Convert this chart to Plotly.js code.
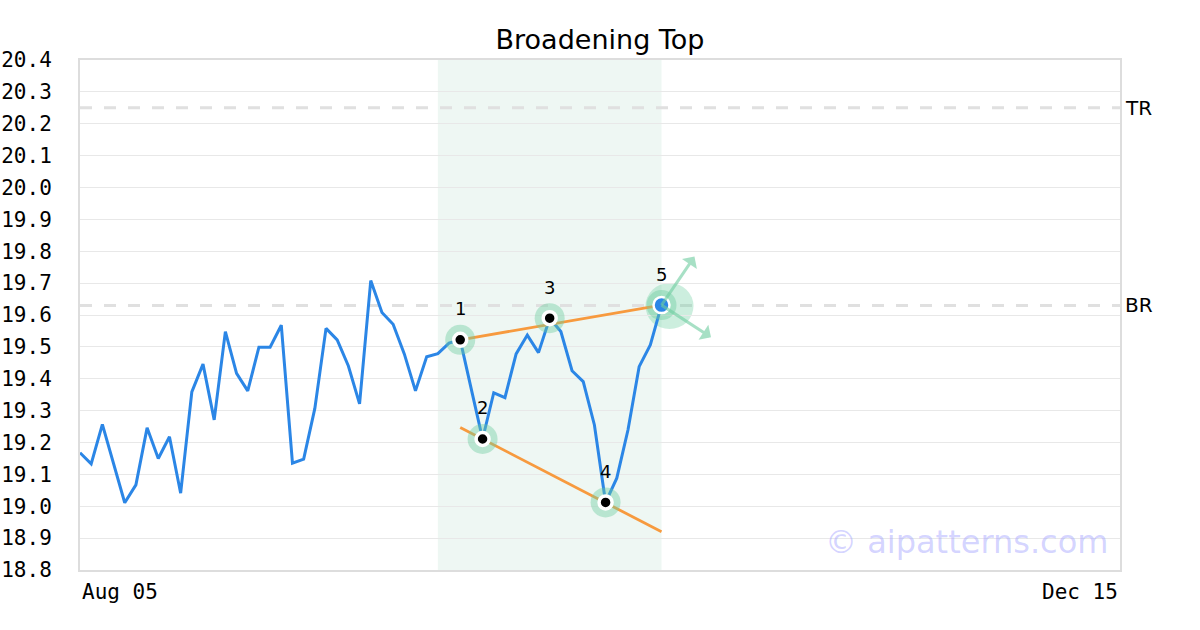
<!DOCTYPE html>
<html>
<head>
<meta charset="utf-8">
<script src="https://cdn.plot.ly/plotly-3.0.1.min.js"></script>
<style>html,body{margin:0;padding:0;background:#fff;}#chart{width:1200px;height:630px;}</style>
</head>
<body>
<div id="chart"></div>
<script>
// ---- data ----
var xStartLabel = "Aug 05";
var xEndLabel = "Dec 15";
var xEndIndex = 93;
var prices = [
  19.168, 19.133, 19.257, 19.133, 19.011, 19.067, 19.246, 19.150, 19.218, 19.041,
  19.359, 19.446, 19.271, 19.548, 19.417, 19.362, 19.499, 19.499, 19.568, 19.135,
  19.148, 19.307, 19.558, 19.522, 19.440, 19.321, 19.708, 19.608, 19.571, 19.478,
  19.362, 19.469, 19.479, 19.512, 19.522, 19.366, 19.211, 19.356, 19.341, 19.478,
  19.537, 19.482, 19.590, 19.548, 19.425, 19.391, 19.255, 19.012, 19.088, 19.239,
  19.438, 19.506, 19.631
];
var pivotIdx = [34, 36, 42, 47, 52];
var pivotLabels = ["1", "2", "3", "4", "5"];
var upperLineX = [34, 52];
var upperLineY = [19.522, 19.631];
var lowerLineX = [34, 52];
var lowerLineY = [19.247, 18.920];
var zoneX = [32, 52];
var levelNames = ["TR", "BR"];
var levelValues = [20.25, 19.63];
var yRange = [18.8, 20.4];

// ---- build ----
var idx = prices.map(function(_, i){ return i; });
var px = pivotIdx.map(function(i){ return i; });
var py = pivotIdx.map(function(i){ return prices[i]; });
var lastI = pivotIdx[pivotIdx.length - 1];

var traces = [
  { x: idx, y: prices, mode: 'lines', line: {color: '#2b86e6', width: 3}, hoverinfo: 'skip' },
  { x: upperLineX, y: upperLineY, mode: 'lines', line: {color: '#f79a3e', width: 2.8}, hoverinfo: 'skip' },
  { x: lowerLineX, y: lowerLineY, mode: 'lines', line: {color: '#f79a3e', width: 2.8}, hoverinfo: 'skip' },
  { x: px, y: py, mode: 'markers', marker: {size: 30, color: 'rgba(110,205,160,0.42)'}, hoverinfo: 'skip' },
  { x: px.slice(0, 4), y: py.slice(0, 4), mode: 'markers',
    marker: {size: 13, color: '#000', line: {color: '#fff', width: 3.5}}, hoverinfo: 'skip' },
  { x: [px[4]], y: [py[4]], mode: 'markers',
    marker: {size: 16, color: '#2b86e6', line: {color: '#fff', width: 2.5}}, hoverinfo: 'skip' }
];

var shapes = [
  { type: 'rect', xref: 'x', yref: 'paper', x0: zoneX[0], x1: zoneX[1], y0: 0, y1: 1,
    fillcolor: '#eef7f3', line: {width: 0}, layer: 'below' },
  { type: 'circle', xref: 'x', yref: 'y', xsizemode: 'pixel', ysizemode: 'pixel',
    xanchor: lastI, yanchor: prices[lastI], x0: -16, x1: 32, y0: -24, y1: 22,
    fillcolor: 'rgba(110,205,160,0.35)', line: {width: 0}, layer: 'below' }
];
var annotations = [];
levelValues.forEach(function(v, k){
  shapes.push({ type: 'line', xref: 'paper', yref: 'y', x0: 0, x1: 1, y0: v, y1: v,
    line: {color: '#e0e0e0', width: 3, dash: '12px,12px'}, layer: 'below' });
  annotations.push({ xref: 'paper', yref: 'y', x: 1, y: v, text: levelNames[k], showarrow: false,
    xanchor: 'left', yanchor: 'middle', xshift: 3,
    font: {family: 'DejaVu Sans', size: 20, color: '#000'} });
});
pivotIdx.forEach(function(i, k){
  annotations.push({ x: i, y: prices[i], text: pivotLabels[k], showarrow: false,
    yshift: 31, xanchor: 'center', yanchor: 'middle',
    font: {family: 'DejaVu Sans', size: 18, color: '#000'} });
});
// breakout arrows from last pivot
[[34, -50], [51, 33]].forEach(function(d){
  annotations.push({ x: lastI, y: prices[lastI], ax: d[0], ay: d[1], text: '',
    showarrow: true, arrowside: 'start', arrowhead: 2, arrowsize: 1.3, arrowwidth: 3,
    arrowcolor: 'rgba(110,205,160,0.6)', standoff: 0, startstandoff: 0 });
});
annotations.push({ xref: 'x', yref: 'paper', x: 0, y: 0, yshift: -8, text: xStartLabel, showarrow: false,
  xanchor: 'left', yanchor: 'top', font: {family: 'DejaVu Sans Mono', size: 21, color: '#000'} });
annotations.push({ xref: 'x', yref: 'paper', x: xEndIndex, y: 0, yshift: -8, text: xEndLabel, showarrow: false,
  xanchor: 'right', yanchor: 'top', font: {family: 'DejaVu Sans Mono', size: 21, color: '#000'} });
annotations.push({ xref: 'paper', yref: 'paper', x: 0.99, y: 0.055, text: '© aipatterns.com', showarrow: false,
  xanchor: 'right', yanchor: 'middle', font: {family: 'DejaVu Sans', size: 32, color: 'rgba(160,160,255,0.45)'} });

var layout = {
  width: 1200, height: 630,
  margin: {l: 80, r: 80, t: 60, b: 60},
  paper_bgcolor: '#fff', plot_bgcolor: '#fff',
  showlegend: false,
  title: {text: 'Broadening Top', x: 0.5, xanchor: 'center', y: 0.937, yanchor: 'middle',
    font: {family: 'DejaVu Sans', size: 27, color: '#000'}},
  xaxis: {range: [0, xEndIndex], showgrid: false, zeroline: false, showticklabels: false,
    ticks: '', showline: true, mirror: true, linecolor: '#dddddd', linewidth: 2, fixedrange: true},
  yaxis: {range: yRange, dtick: 0.1, tick0: 18.8, tickformat: '.1f', showgrid: true, gridcolor: '#e8e8e8',
    gridwidth: 1, zeroline: false, ticks: '', ticklabelstandoff: 22,
    tickfont: {family: 'DejaVu Sans Mono', size: 21, color: '#000'},
    showline: true, mirror: true, linecolor: '#dddddd', linewidth: 2, fixedrange: true},
  shapes: shapes,
  annotations: annotations
};
Plotly.newPlot('chart', traces, layout, {displayModeBar: false, staticPlot: true});
</script>
</body>
</html>
